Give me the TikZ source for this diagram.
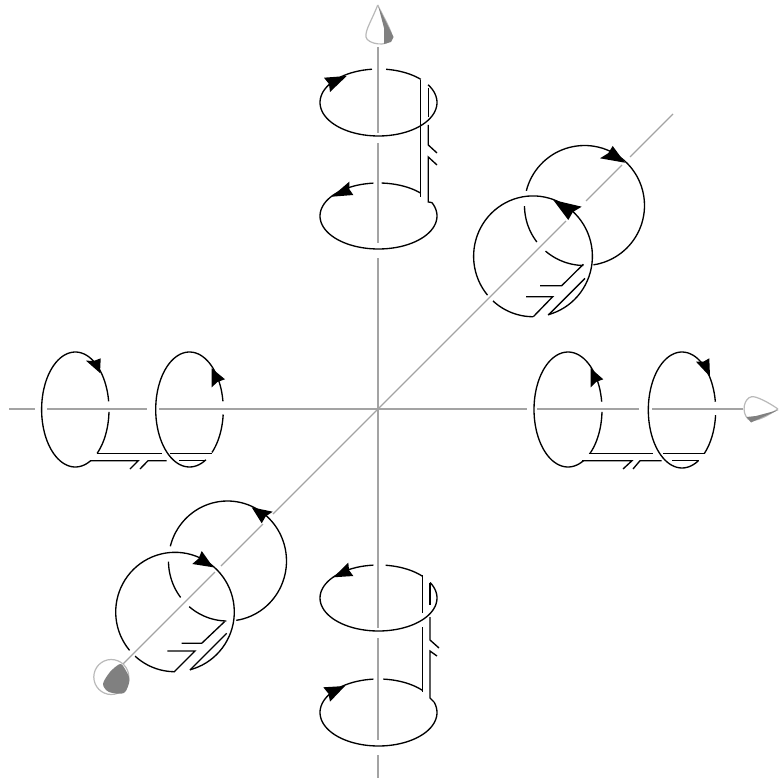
\documentclass[tikz,border=0pt]{standalone}
\usepackage{amsmath}
\usetikzlibrary{calc}

\newcommand{\ringarc}[6]{\draw[ring] plot[domain=#5:#6,samples=70] ({#1+#3*cos(\x)},{#2+#4*sin(\x)});}
\newcommand{\headtip}[3]{\fill[head] (#1) -- (#2) -- ($0.45*(#2)+0.45*(#3)+0.1*(#1)$) -- (#3) -- cycle;}

\begin{document}
\begin{tikzpicture}[
  x=0.75pt, y=-0.75pt,
  ring/.style={draw=black, line width=1pt},
  wire/.style={draw=black, line width=1pt, line join=miter},
  head/.style={fill=black},
  axis/.style={draw=gray!72, line width=1pt},
  conebody/.style={draw=gray!55, fill=white, line width=0.9pt},
  coneside/.style={fill=gray, draw=none}]

\useasboundingbox (0,0) rectangle (779,781);

% Axes
\draw[axis] (378,47)--(378,133); \draw[axis] (378,143)--(378,243);
\draw[axis] (378,258)--(378,628); \draw[axis] (378,638)--(378,740);
\draw[axis] (378,755)--(378,778);
\draw[axis] (9,409)--(35,409); \draw[axis] (47,409)--(147,409);
\draw[axis] (159,409)--(527,409); \draw[axis] (537,409)--(639,409);
\draw[axis] (652,409)--(743,409);
\draw[axis] (673,114)--(630,157); \draw[axis] (622,165)--(586,201);
\draw[axis] (566,221)--(273,514); \draw[axis] (263,524)--(221,566);
\draw[axis] (215,572)--(123,664);

% Cones
\draw[conebody] (377.7,5) .. controls (372,20) and (365,30) .. (366,37)
  .. controls (367,44) and (388,48) .. (392,38) .. controls (393,33) and (384,18) .. (377.7,5);
\fill[coneside] (378.5,7) -- (393.5,37) -- (391,42) -- (384,44) -- (384,28) -- cycle;
\draw[conebody] (778,409) .. controls (768,402) and (756,396) .. (751.7,396.7)
  .. controls (744,398) and (741,412) .. (748,419) .. controls (755,424) and (770,414) .. (778,409);
\fill[coneside] (778.5,410) -- (751,422.5) -- (746.5,417) -- (756,416) -- cycle;
\draw[conebody] (111.3,677) circle[radius=17.5];
\fill[coneside] plot[smooth cycle] coordinates {(120,664) (125,669) (129.5,680) (124,693) (109,692) (103,684) (110,672)};

% Top pair
\ringarc{378.5}{102.5}{58.5}{33.5}{-32}{263.6}
\ringarc{378.5}{102.5}{58.5}{33.5}{277.4}{316.2}
\ringarc{378.5}{216}{58.5}{33}{-24}{265}
\ringarc{378.5}{216}{58.5}{33}{273}{316.2}
\draw[wire] (420.7,80)--(420.7,197);
\draw[wire] (428.3,88)--(428.3,117);
\draw[wire] (428.3,125)--(428.3,145)--(437,153);
\draw[wire] (437,165)--(428.3,157)--(428.3,202)--(432,202.6);
\headtip{346.7,76}{324,77.7}{330,92}
\headtip{331.7,196.7}{349.3,181.7}{353.3,195}

% Bottom pair
\ringarc{378.5}{598}{58.5}{33}{-28}{265}
\ringarc{378.5}{598}{58.5}{33}{277}{318.5}
\ringarc{378.5}{712.5}{58.5}{33.5}{-18}{265}
\ringarc{378.5}{712.5}{58.5}{33.5}{274.7}{318.5}
\draw[wire] (422.3,575)--(422.3,613);
\draw[wire] (422.3,627)--(422.3,692);
\draw[wire] (430,583)--(430,605);
\draw[wire] (430,617)--(430,640)--(439,648);
\draw[wire] (437,656)--(430,651)--(430,698)--(434,702);
\headtip{333.3,577.3}{348.3,562.7}{353.3,576}
\headtip{345,686}{323.3,687.3}{330,701.7}

% Right pair
\ringarc{568}{409.5}{34}{57.5}{63}{352.2}
\ringarc{568}{409.5}{34}{57.5}{2.3}{49.6}
\ringarc{682}{410}{33.7}{58}{61}{351.8}
\ringarc{682}{410}{33.7}{58}{5}{48.3}
\draw[wire] (588.5,453.3)--(653,453.3);
\draw[wire] (663,453.3)--(705,453.3);
\draw[wire] (582,460.7)--(632,460.7)--(623,469);
\draw[wire] (633,469)--(640,460.7)--(661.7,460.7);
\draw[wire] (672,460.7)--(698.5,460.7);
\headtip{590.7,368.3}{603.3,379.3}{590.7,387.3}
\headtip{710,376.7}{696,361.7}{709.3,358.3}

% Left pair
\ringarc{75.3}{409.5}{33.7}{57.5}{63}{351.8}
\ringarc{75.3}{409.5}{33.7}{57.5}{2.3}{49.6}
\ringarc{189.5}{409.5}{33.8}{57.5}{61}{351.8}
\ringarc{189.5}{409.5}{33.8}{57.5}{5}{48.3}
\draw[wire] (96.7,453.3)--(161.7,453.3);
\draw[wire] (170,453.3)--(212,453.3);
\draw[wire] (90,460.7)--(138.3,460.7)--(130,469);
\draw[wire] (140,469)--(148,460.7)--(166.7,460.7);
\draw[wire] (179,460.7)--(205,460.7);
\headtip{100,373}{86,360.7}{100.7,358.3}
\headtip{211.7,368.3}{225,379.3}{211.7,387.3}

% Upper diagonal pair
\ringarc{584.5}{205.5}{60}{60}{-165.8}{81.5}
\ringarc{584.5}{205.5}{60}{60}{91}{130.5}
\ringarc{584.5}{205.5}{60}{60}{142.6}{179.5}
\ringarc{533}{256.3}{59.4}{60.4}{-220}{75.4}
\ringarc{533}{256.3}{59.4}{60.4}{90}{132.3}
\draw[wire] (583.3,264.3)--(561.7,285.7)--(540,285.7);
\draw[wire] (526,296.7)--(552.7,296.7)--(533.3,316.7);
\draw[wire] (585,278.3)--(548.3,315);
\headtip{625,162.7}{612.7,146}{600,158.3}
\headtip{553.3,200}{581.7,206.7}{568.3,220}

% Lower diagonal pair
\ringarc{227.5}{561}{59}{60}{-165.8}{81.5}
\ringarc{227.5}{561}{59}{60}{91}{130.5}
\ringarc{227.5}{561}{59}{60}{142.6}{179.5}
\ringarc{175}{612}{59.3}{59.7}{-220}{75.4}
\ringarc{175}{612}{59.3}{59.7}{90}{132.3}
\draw[wire] (224.5,621.7)--(201.7,643.3)--(181.7,643.3);
\draw[wire] (167.3,651)--(195,651)--(174.3,671.7);
\draw[wire] (226.7,633.3)--(190,670);
\headtip{251.7,507.3}{272.7,511.7}{261.7,523.3}
\headtip{213.3,567.3}{201.7,551}{192.3,564}
\end{tikzpicture}
\end{document}
